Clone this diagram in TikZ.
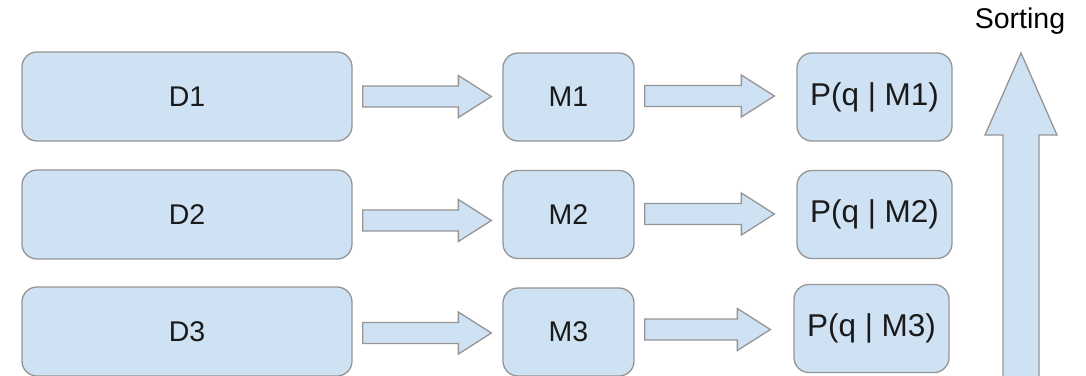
\documentclass[tikz,border=0pt]{standalone}
\usepackage{fontspec}
\setmainfont{Liberation Sans}
\usetikzlibrary{calc}
\definecolor{boxfill}{HTML}{CFE2F3}
\definecolor{boxline}{HTML}{959595}
\definecolor{txt}{HTML}{1A1A1A}
\tikzset{
  box/.style={draw=boxline, fill=boxfill, line width=1.3pt, rounded corners=15pt,
    inner sep=0pt, font=\fontsize{28.5}{34}\selectfont, text=txt},
  dbox/.style={box, minimum width=330pt, minimum height=89pt},
  mbox/.style={box, minimum width=131pt, minimum height=88pt},
  pbox/.style={box, minimum width=155pt, minimum height=88pt, font=\fontsize{31.5}{36}\selectfont},
  blockarrow/.style={draw=boxline, fill=boxfill, line width=1.3pt, line join=miter},
  lbl/.style={font=\fontsize{28.5}{34}\selectfont, text=black, inner sep=0pt}
}
\newcommand\barrow[5]{%
  \draw[blockarrow] let \p1=(#1.east), \p2=(#2.west),
    \n1={\x1+#3pt}, \n2={\x2-#4pt}, \n3={\x2-#4pt-33pt}, \n4={\y1-(#5)*1pt} in
    (\n1,\n4+10.5pt) -- (\n3,\n4+10.5pt) -- (\n3,\n4+21pt) -- (\n2,\n4)
    -- (\n3,\n4-21pt) -- (\n3,\n4-10.5pt) -- (\n1,\n4-10.5pt) -- cycle;}
\begin{document}
\begin{tikzpicture}[x=1pt,y=-1pt]
\clip (0,0) rectangle (1086,375);
\fill[white] (0,0) rectangle (1086,375);
% row 1
\node[dbox] (D1) at (187,96.5) {D1};
\node[mbox] (M1) at (568.5,97) {M1};
\node[pbox] (P1) at (874.5,97) {P(q | M1)};
% row 2
\node[dbox] (D2) at (187,214.5) {D2};
\node[mbox] (M2) at (568.5,214.5) {M2};
\node[pbox] (P2) at (874.5,214.5) {P(q | M2)};
% row 3
\node[dbox] (D3) at (187,331.5) {D3};
\node[mbox] (M3) at (568.5,332) {M3};
\node[pbox] (P3) at (871.5,328.5) {P(q | M3)};
% arrows
\barrow{D1}{M1}{10}{11}{0}
\barrow{M1}{P1}{10}{22}{-1}
\barrow{D2}{M2}{10}{11}{6}
\barrow{M2}{P2}{10}{22}{-0.5}
\barrow{D3}{M3}{10}{11}{1.5}
\barrow{M3}{P3}{10}{23}{-2.5}
% sorting
\node[lbl, anchor=base] (sort) at (1020,28) {Sorting};
\coordinate (uptip) at (1021,53);
\coordinate (upbase) at (1021,380);
\draw[blockarrow] let \p1=(upbase), \p2=(uptip) in
  (\x1-18pt,\y1) -- (\x1-18pt,\y2-82pt) -- (\x1-36pt,\y2-82pt) -- (\x2,\y2)
  -- (\x1+36pt,\y2-82pt) -- (\x1+18pt,\y2-82pt) -- (\x1+18pt,\y1) -- cycle;
\end{tikzpicture}
\end{document}
